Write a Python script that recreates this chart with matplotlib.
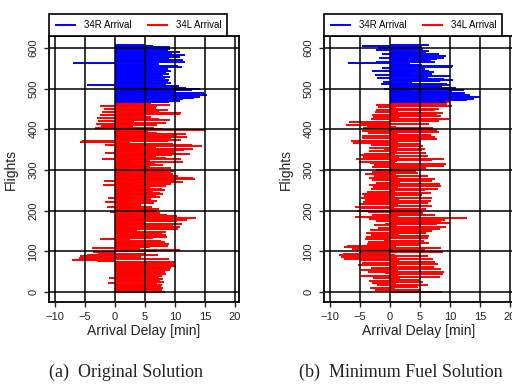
import numpy as np
import matplotlib.pyplot as plt

plt.rcParams["font.family"] = ["Liberation Sans", "DejaVu Sans"]

# one delay value per two flights [min]
flights_34L = np.arange(0, 467, 2)
flights_34R = np.arange(468, 607, 2)

orig_34L = [
    8.3, 5.1, 7.9, 4.6, 7.4, 8.1, 5.3, 7.7, 4.8, 7.9,
    7.0, -1.2, 8.2, 4.5, 7.5, 3.9, 8.0, -1.0, 7.3, 5.1,
    7.8, 4.5, 8.6, 5.2, 4.2, 8.3, 5.8, 9.2, 4.7, 7.9,
    9.4, 4.3, 10.2, 5.6, 9.8, 5.0, 8.9, 10.1, -3.0, -7.2,
    9.0, -5.2, -6.0, 4.4, -5.8, 7.2, -4.6, 5.1, -2.9, -3.7,
    6.9, 3.8, 10.8, 4.2, -3.9, 5.8, 8.8, 2.6, 7.5, 9.1,
    3.0, 8.4, 3.2, 7.7, 2.5, -2.5, 6.4, 8.7, 2.9, 7.1,
    8.6, 3.8, 7.9, 2.3, 8.5, 3.6, 2.7, 9.0, 10.6, 3.4,
    10.8, 2.2, 9.7, 3.4, 11.2, 5.0, 2.5, 10.3, 3.2, 12.1,
    9.5, 13.6, 3.8, 10.4, 2.1, 8.7, 3.3, 7.5, -0.8, 3.6,
    6.8, 2.5, 7.3, 3.0, -1.3, 6.2, 2.8, 4.4, 3.7, 6.5,
    2.2, -1.6, 7.1, 2.8, 6.0, -1.2, 3.7, 7.5, 2.9, 6.9,
    8.1, 2.3, 7.6, 3.0, 6.4, 8.3, 2.7, 7.8, 3.6, 5.9,
    8.5, -2.0, 3.2, 9.4, 2.1, 11.3, -1.8, 10.0, 3.3, 13.4,
    13.0, 2.6, 6.2, 10.5, 3.9, 9.7, 2.5, 9.4, 3.0, 9.8,
    8.2, 2.5, 9.3, 4.7, 2.4, 5.8, 8.0, 2.6, 6.7, 3.9,
    11.4, 2.8, 5.9, 11.0, -2.2, 8.5, 3.2, 6.9, 9.5, 12.5,
    12.3, -1.7, 9.8, 3.1, 11.6, 2.4, 13.0, 4.1, 6.8, 14.5,
    12.9, -1.6, 9.7, 2.5, -5.8, 8.8, -5.5, 11.0, 2.8, 9.3,
    12.0, 3.4, 10.4, 2.1, 11.9, 7.0, 3.0, 5.6, 2.2, 15.0,
    8.0, -3.3, 6.5, 3.0, -2.4, 7.1, 2.4, -3.1, 8.6, 3.2,
    -2.8, 9.2, 2.8, 7.3, -3.0, 6.0, 3.1, -2.5, 4.9, 10.9,
    11.1, -2.2, 7.4, 3.1, 8.9, -1.9, 6.8, 2.3, 7.0, -2.5,
    9.2, 3.3, 6.0, 7.4,
]
orig_34R = [
    9.0, 10.8, 5.6, 11.3, 13.2, 6.0, 14.2, 13.5, 15.3, 7.4,
    14.8, 11.0, 6.6, 10.2, 12.9, 5.5, 14.2, 11.8, 6.5, 10.7,
    -4.7, 8.5, 5.2, 9.3, 5.8, 8.8, 5.9, 9.1, 5.6, 8.4,
    9.2, 5.4, 8.0, 6.3, 9.0, 5.8, 8.6, 5.7, 9.4, 6.2,
    8.9, 5.1, 11.2, 6.3, 10.5, 5.7, 7.4, -7.0, 11.7, 5.1,
    9.5, 11.3, 5.9, 9.0, 5.6, 10.8, 6.4, 11.7, 5.2, 9.6,
    6.0, 10.9, 5.5, 8.8, 6.3, 9.2, 5.0, 9.2, 6.4, 5.0,
]

fuel_34L = [
    8.7, 1.2, -2.5, 5.2, 0.8, -3.4, 4.6, 1.5, -2.1, 6.3,
    1.0, -3.0, 5.5, 0.6, -3.5, 4.9, 1.6, -2.8, 3.8, 8.4,
    -4.9, 1.3, 8.9, -0.9, -3.6, 9.1, 1.4, -4.8, 8.6, 0.7,
    -3.2, 7.4, 1.1, -5.3, 8.0, -0.7, -4.7, 7.5, 1.5, -5.0,
    7.2, -7.6, 1.2, -8.2, 6.4, -8.5, 0.9, -7.8, -5.2, 8.8,
    1.4, -4.1, 5.9, -6.4, 8.5, -7.6, 1.0, -7.2, 5.1, -3.8,
    6.5, 0.8, -3.6, 5.7, -1.0, -4.2, 6.3, 1.2, -4.0, 6.6,
    -3.1, 1.5, 6.0, -4.0, 0.6, 7.1, -3.4, 1.3, 8.3, -2.0,
    9.4, 1.1, -2.6, 7.9, -0.8, 10.0, 8.6, -2.4, 1.6, 9.2,
    -3.5, 12.9, -5.9, 1.4, 7.5, -3.0, 0.9, 5.5, -3.6, 4.8,
    -5.5, 1.2, 6.0, -4.8, 0.7, -5.9, 7.0, 1.3, -5.2, 6.4,
    -4.5, 1.0, 6.8, -4.1, 1.5, -4.9, 7.1, 0.8, -4.4, 5.3,
    -4.7, 1.1, 6.9, -3.8, 0.9, 5.8, -3.1, 8.1, 1.4, -2.9,
    8.5, -3.5, 1.2, 8.3, -2.4, 1.6, 7.0, -3.0, 0.7, 7.5,
    -3.5, 1.3, 6.3, -2.6, 1.0, -4.1, 4.7, 1.5, -3.0, 4.4,
    -2.4, 1.2, 6.0, -3.0, 1.4, 9.0, -2.6, 9.4, 0.8, -3.3,
    -5.2, 1.1, 7.0, -5.6, 9.0, 1.5, -4.5, 6.4, -5.0, 0.9,
    -4.4, 6.0, 1.2, -3.5, 5.3, -1.0, 5.9, -3.5, 1.4, 5.5,
    -3.2, 1.0, 5.0, -6.1, 1.3, -6.5, 5.2, 1.6, 7.8, -4.7,
    1.1, 7.5, -4.7, 6.8, 1.4, -3.6, 8.2, 0.9, -4.7, 7.8,
    1.2, -4.5, 7.2, 1.0, -3.8, -7.4, 6.6, 1.3, -5.0, -6.9,
    8.2, 1.1, -3.1, 9.8, 1.5, -2.8, 8.6, 1.2, -3.0, 7.8,
    8.9, -2.5, 1.4, 7.5, -2.3, 8.2, 1.0, -2.0, 9.5, 10.3,
    -2.4, 9.5, 1.3, 10.0,
]
fuel_34R = [
    9.3, 3.6, 12.8, 14.1, 4.0, 15.0, 14.5, 3.8, 13.3, 11.8,
    4.2, 12.6, 10.4, 3.5, 12.4, 9.8, -1.0, 11.0, 8.7, 3.9,
    10.1, -1.5, 9.6, 3.7, -1.2, 8.3, 10.5, 3.4, 9.0, -2.1,
    6.4, 10.0, 3.6, -2.5, 7.0, 3.2, 7.4, -3.0, 6.6, 3.8,
    5.9, -1.3, 10.4, 3.5, 10.6, 5.4, 3.3, -7.0, 7.6, -2.3,
    6.8, 3.5, 7.9, -1.8, 9.0, 3.3, 9.4, 5.1, -1.4, 8.2,
    6.0, 3.4, 6.5, -2.4, 5.6, 3.1, -2.0, 5.3, -4.6, 6.5,
]

x_ticks = [-10, -5, 0, 5, 10, 15, 20]
y_ticks = [0, 100, 200, 300, 400, 500, 600]

fig = plt.figure(figsize=(5.12, 3.84), dpi=100)
panels = [
    (orig_34L, orig_34R, "(a)  Original Solution", 49, 126),
    (fuel_34L, fuel_34R, "(b)  Minimum Fuel Solution", 324, 401),
]
for red_vals, blue_vals, caption, left, cap_x in panels:
    ax = fig.add_axes([left / 512, 82 / 384, 190 / 512, 266 / 384])
    hl = ax.hlines(flights_34L, 0, red_vals, color="red", lw=1.4, zorder=1)
    hr = ax.hlines(flights_34R, 0, blue_vals, color="blue", lw=1.4, zorder=1)
    ax.set_xlim(-11, 20.7)
    ax.set_ylim(-24.6, 629)
    ax.set_xticks(x_ticks)
    ax.set_yticks(y_ticks)
    ax.grid(True, color="black", lw=1.1)
    ax.set_axisbelow(False)
    for s in ax.spines.values():
        s.set_linewidth(1.3)
    ax.tick_params(axis="both", direction="out", length=3.5, width=1,
                   labelsize=8, colors="#222222")
    ax.tick_params(axis="y", labelrotation=90, pad=4)
    for t in ax.get_yticklabels():
        t.set_va("center")
    ax.set_xlabel("Arrival Delay [min]", fontsize=10, color="#222222", labelpad=2)
    ax.set_ylabel("Flights", fontsize=10, color="#222222")
    ax.yaxis.set_label_coords(-0.165, 0.5)
    leg = ax.legend([hr, hl], ["34R Arrival", "34L Arrival"], ncol=2,
                    loc="lower left", bbox_to_anchor=(0, 1.0, 0.937, 0.09),
                    mode="expand", borderaxespad=0, fontsize=7,
                    handlelength=2.2, fancybox=False, framealpha=1,
                    borderpad=0.6)
    leg.get_frame().set_edgecolor("black")
    leg.get_frame().set_linewidth(1.2)
    fig.text(cap_x / 512, 1 - 372 / 384, caption, ha="center", va="center",
             family="Liberation Serif", fontsize=13, color="#222222")

fig.savefig("out.png", dpi=100)
